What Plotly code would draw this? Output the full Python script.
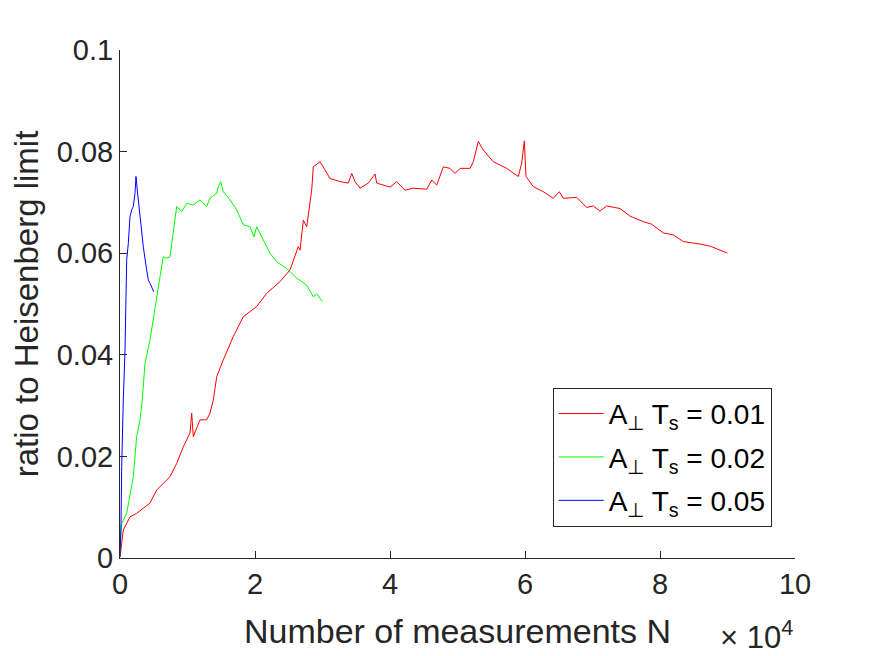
import plotly.graph_objects as go

# x in units of 1e4 measurements
red_x = [0, 0.049, 0.148, 0.247, 0.345, 0.444, 0.544, 0.641, 0.741, 0.840, 0.938, 1.037, 1.062, 1.086,
         1.185, 1.284, 1.333, 1.382, 1.433, 1.530, 1.679, 1.827, 2.025, 2.173, 2.370, 2.519, 2.641, 2.667,
         2.716, 2.766, 2.840, 2.864, 2.963, 3.037, 3.111, 3.259, 3.382, 3.433, 3.481, 3.556, 3.679, 3.778,
         3.803, 4.0, 4.099, 4.222, 4.345, 4.544, 4.618, 4.692, 4.790, 4.889, 4.963, 5.037, 5.185, 5.234,
         5.308, 5.382, 5.530, 5.729, 5.901, 5.951, 5.990, 6.015, 6.123, 6.271, 6.419, 6.508, 6.567, 6.766,
         6.914, 7.012, 7.111, 7.210, 7.308, 7.407, 7.556, 7.753, 7.877, 8.049, 8.197, 8.345, 8.593, 8.741, 9.0]
red_y = [0.0002, 0.0055, 0.0081, 0.0088, 0.0098, 0.0108, 0.0134, 0.0147, 0.0160, 0.0186, 0.0219, 0.0246, 0.0285, 0.0239,
         0.0272, 0.0272, 0.0285, 0.0311, 0.0357, 0.0390, 0.0436, 0.0475, 0.0495, 0.0521, 0.0544, 0.0567, 0.0613, 0.0606,
         0.0665, 0.0652, 0.0724, 0.0770, 0.0780, 0.0764, 0.0747, 0.0741, 0.0738, 0.0757, 0.0741, 0.0728, 0.0738, 0.0756,
         0.0738, 0.0730, 0.0741, 0.0724, 0.0728, 0.0726, 0.0744, 0.0734, 0.0770, 0.0767, 0.0757, 0.0767, 0.0767, 0.0780,
         0.0820, 0.0803, 0.0780, 0.0767, 0.0751, 0.0777, 0.0821, 0.0751, 0.0731, 0.0721, 0.0708, 0.0721, 0.0708, 0.0710,
         0.0690, 0.0693, 0.0683, 0.0693, 0.0690, 0.0688, 0.0673, 0.0662, 0.0657, 0.0640, 0.0636, 0.0623, 0.0618, 0.0614, 0.0600]

green_x = [0, 0.025, 0.099, 0.148, 0.197, 0.247, 0.296, 0.330, 0.370, 0.444, 0.519, 0.593, 0.641, 0.692, 0.741,
           0.790, 0.840, 0.914, 0.988, 1.086, 1.185, 1.284, 1.333, 1.433, 1.456, 1.492, 1.530, 1.630, 1.729,
           1.827, 1.926, 1.985, 2.025, 2.123, 2.222, 2.321, 2.470, 2.618, 2.766, 2.864, 2.914, 3.0]
green_y = [0.001, 0.0068, 0.0088, 0.0127, 0.0160, 0.0239, 0.0272, 0.0311, 0.0383, 0.0429, 0.0488, 0.0554, 0.0593, 0.0590, 0.0593,
           0.0639, 0.0692, 0.0682, 0.0698, 0.0695, 0.0705, 0.0692, 0.0708, 0.0718, 0.0731, 0.0741, 0.0721, 0.0705, 0.0685,
           0.0656, 0.0652, 0.0632, 0.0652, 0.0626, 0.0600, 0.0583, 0.0570, 0.0551, 0.0537, 0.0514, 0.0520, 0.0505]

blue_x = [0, 0.015, 0.025, 0.040, 0.049, 0.074, 0.099, 0.123, 0.148, 0.173, 0.197, 0.222, 0.237, 0.256,
          0.296, 0.345, 0.395, 0.420, 0.444, 0.469, 0.5]
blue_y = [0.0002, 0.0068, 0.018, 0.031, 0.0311, 0.0409, 0.0587, 0.0619, 0.0672, 0.0685, 0.0692, 0.0718, 0.0751, 0.0724,
          0.0672, 0.0613, 0.0567, 0.0547, 0.0541, 0.0534, 0.0524]

x_ticks = [0, 2, 4, 6, 8, 10]
y_ticks = [0, 0.02, 0.04, 0.06, 0.08, 0.1]
y_tick_text = ["0", "0.02", "0.04", "0.06", "0.08", "0.1"]

names = ["A<sub>⊥</sub> T<sub>s</sub> = 0.01", "A<sub>⊥</sub> T<sub>s</sub> = 0.02", "A<sub>⊥</sub> T<sub>s</sub> = 0.05"]

AX = "#262626"
FONT = "Liberation Sans, Arial, sans-serif"

fig = go.Figure()
fig.add_trace(go.Scatter(x=red_x, y=red_y, mode="lines", line=dict(color="#ff0000", width=1), name=names[0], legendgroup="a"))
fig.add_trace(go.Scatter(x=green_x, y=green_y, mode="lines", line=dict(color="#00ff00", width=1), name=names[1], legendgroup="b"))
fig.add_trace(go.Scatter(x=blue_x, y=blue_y, mode="lines", line=dict(color="#0000ff", width=1), name=names[2], legendgroup="c"))

fig.update_layout(
    width=875, height=656,
    margin=dict(l=120, r=80, t=50, b=98),
    paper_bgcolor="white", plot_bgcolor="white",
    font=dict(family=FONT, color=AX, size=29),
    showlegend=True,
    legend=dict(x=0.641, y=0.335, xanchor="left", yanchor="top",
                bgcolor="white", bordercolor=AX, borderwidth=1,
                font=dict(size=28, color="black"), itemwidth=45, tracegroupgap=4),
    xaxis=dict(range=[0, 10], tickvals=x_ticks, ticktext=[str(v) for v in x_ticks],
               showline=True, linecolor=AX, linewidth=1, ticks="inside", ticklen=7,
               tickcolor=AX, showgrid=False, zeroline=False,
               tickfont=dict(size=29, color=AX),
               title=dict(text="Number of measurements N", font=dict(size=34, color=AX), standoff=20)),
    yaxis=dict(range=[0, 0.1], tickvals=y_ticks, ticktext=y_tick_text,
               showline=True, linecolor=AX, linewidth=1, ticks="inside", ticklen=7,
               tickcolor=AX, showgrid=False, zeroline=False,
               tickfont=dict(size=29, color=AX),
               title=dict(text="ratio to Heisenberg limit", font=dict(size=33, color=AX), standoff=8)),
)
fig.add_annotation(text="× 10<sup>4</sup>", xref="paper", yref="paper", x=1.0, y=-0.108,
                   xanchor="right", yanchor="top", showarrow=False,
                   font=dict(family=FONT, size=31, color=AX))

fig.write_html("out.html")
